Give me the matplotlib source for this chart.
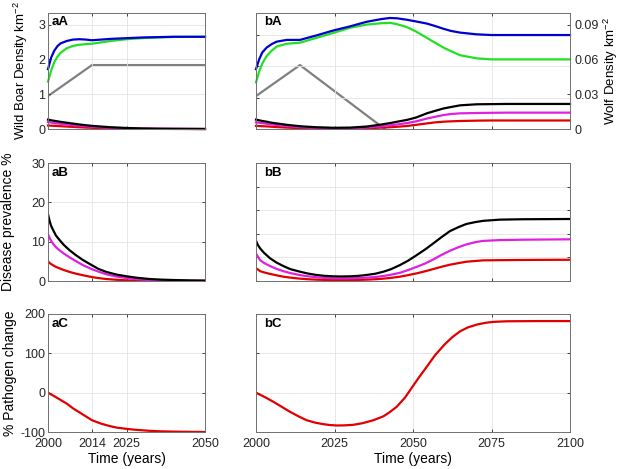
import numpy as np
import matplotlib
matplotlib.use('Agg')
import matplotlib.pyplot as pl

pl.rcParams['font.family'] = ['Liberation Sans', 'DejaVu Sans']
pl.rcParams['font.size'] = 10
pl.rcParams['mathtext.default'] = 'regular'
pl.rcParams['axes.unicode_minus'] = False

# ---- data ----
# row A, left: wild boar density (km^-2) and wolf density
yr_aA = [2000, 2001, 2002, 2003, 2004, 2006, 2008, 2010, 2012, 2014, 2017, 2020, 2025, 2030, 2035, 2040, 2050]
boar_total_aA = [1.72, 2.05, 2.25, 2.38, 2.46, 2.53, 2.57, 2.58, 2.57, 2.55, 2.57, 2.59, 2.61, 2.63, 2.64, 2.65, 2.65]
boar_sus_aA = [1.36, 1.68, 1.92, 2.08, 2.19, 2.32, 2.39, 2.42, 2.44, 2.45, 2.49, 2.53, 2.58, 2.61, 2.63, 2.645, 2.65]
boar_inf_aA = [0.27, 0.25, 0.235, 0.22, 0.205, 0.18, 0.155, 0.13, 0.11, 0.09, 0.07, 0.05, 0.03, 0.015, 0.008, 0.005, 0.0]
boar_mid_aA = [0.20, 0.185, 0.17, 0.16, 0.15, 0.13, 0.11, 0.095, 0.08, 0.065, 0.05, 0.035, 0.02, 0.01, 0.005, 0.003, 0.0]
boar_low_aA = [0.10, 0.095, 0.09, 0.085, 0.08, 0.07, 0.06, 0.05, 0.04, 0.035, 0.025, 0.018, 0.01, 0.005, 0.003, 0.001, 0.0]
wolf_yr_a = [2000, 2014, 2050]
wolf_a = [0.0284, 0.0551, 0.0551]

# row A, right
yr_bA = [2000, 2001, 2002, 2003.4, 2005, 2006.6, 2009.8, 2014, 2019.3, 2024.6, 2030, 2035.2, 2040,
         2042.7, 2045, 2048, 2051, 2054.4, 2057, 2059.7, 2062, 2065, 2070.3, 2075, 2080, 2090, 2100]
boar_total_bA = [1.72, 2.0, 2.2, 2.34, 2.44, 2.51, 2.56, 2.56, 2.69, 2.83, 2.95, 3.08, 3.16,
                 3.19, 3.18, 3.14, 3.09, 3.03, 2.96, 2.88, 2.82, 2.77, 2.72, 2.70, 2.70, 2.70, 2.70]
boar_sus_bA = [1.34, 1.65, 1.88, 2.10, 2.25, 2.37, 2.45, 2.48, 2.62, 2.76, 2.91, 3.0, 3.04,
               3.05, 3.01, 2.93, 2.80, 2.62, 2.48, 2.34, 2.24, 2.12, 2.03, 2.0, 2.0, 2.0, 2.0]
boar_inf_bA = [0.27, 0.25, 0.23, 0.21, 0.18, 0.16, 0.12, 0.08, 0.05, 0.035, 0.04, 0.07, 0.13,
               0.17, 0.21, 0.26, 0.33, 0.45, 0.52, 0.59, 0.63, 0.68, 0.71, 0.715, 0.72, 0.72, 0.72]
boar_mid_bA = [0.19, 0.18, 0.17, 0.15, 0.13, 0.115, 0.085, 0.055, 0.035, 0.025, 0.025, 0.045, 0.08,
               0.105, 0.13, 0.17, 0.22, 0.30, 0.35, 0.40, 0.43, 0.45, 0.46, 0.465, 0.47, 0.47, 0.47]
boar_low_bA = [0.09, 0.085, 0.08, 0.075, 0.065, 0.055, 0.04, 0.025, 0.015, 0.012, 0.012, 0.02, 0.04,
               0.05, 0.065, 0.085, 0.12, 0.16, 0.19, 0.21, 0.22, 0.23, 0.24, 0.245, 0.245, 0.245, 0.245]
wolf_yr_b = [2000, 2014, 2041]
wolf_b = [0.0284, 0.0551, 0.0]

# row B: disease prevalence (%)
yr_aB = [2000, 2000.5, 2001, 2001.6, 2002.5, 2003.7, 2005, 2006.9, 2009, 2011.2, 2014, 2016,
         2018.6, 2022, 2025, 2028, 2032.4, 2036, 2040, 2045, 2050]
prev_hi_aB = [17.0, 15.3, 14.0, 13.0, 11.6, 10.4, 9.2, 7.8, 6.5, 5.3, 4.0, 3.1,
              2.3, 1.6, 1.2, 0.85, 0.5, 0.35, 0.25, 0.15, 0.1]
prev_mid_aB = [11.9, 11.0, 10.2, 9.5, 8.6, 7.8, 7.0, 6.0, 5.0, 4.0, 3.0, 2.4,
               1.7, 1.1, 0.77, 0.5, 0.26, 0.17, 0.1, 0.06, 0.05]
prev_low_aB = [5.0, 4.6, 4.3, 4.0, 3.6, 3.2, 2.8, 2.3, 1.85, 1.45, 1.0, 0.75,
               0.5, 0.3, 0.17, 0.1, 0.05, 0.03, 0.02, 0.01, 0.0]

yr_bB = [2000, 2000.5, 2001.3, 2002.5, 2004.5, 2006.5, 2008.7, 2011, 2014, 2016.5, 2019.3, 2022,
         2024.6, 2027, 2030, 2032.5, 2035.2, 2038, 2040.6, 2043, 2045.9, 2048.5, 2051.2, 2054,
         2056.5, 2059, 2061.8, 2064.5, 2067, 2070, 2072.4, 2077.7, 2085, 2100]
prev_hi_bB = [10.25, 9.3, 8.3, 7.2, 5.76, 4.7, 3.8, 3.0, 2.37, 1.9, 1.53, 1.3,
              1.19, 1.15, 1.19, 1.3, 1.53, 1.85, 2.37, 3.0, 4.07, 5.2, 6.6, 8.1,
              9.58, 11.1, 12.7, 13.7, 14.5, 15.0, 15.3, 15.6, 15.7, 15.76]
prev_mid_bB = [7.0, 6.3, 5.3, 4.6, 3.8, 3.1, 2.5, 2.0, 1.5, 1.2, 0.93, 0.77,
               0.68, 0.66, 0.68, 0.75, 0.85, 1.02, 1.27, 1.6, 2.1, 2.8, 3.6, 4.5,
               5.5, 6.6, 7.7, 8.6, 9.3, 9.9, 10.2, 10.4, 10.5, 10.6]
prev_low_bB = [3.2, 3.0, 2.5, 2.2, 1.8, 1.45, 1.1, 0.85, 0.6, 0.45, 0.34, 0.28,
               0.25, 0.24, 0.25, 0.28, 0.34, 0.45, 0.6, 0.8, 1.1, 1.5, 1.95, 2.5,
               3.05, 3.6, 4.15, 4.55, 4.9, 5.1, 5.25, 5.3, 5.35, 5.4]

# row C: % pathogen change
yr_aC = [2000, 2002, 2003.7, 2006, 2008, 2011, 2014, 2017, 2019.7, 2022, 2025, 2028, 2032.4,
         2036, 2040, 2045, 2050]
path_aC = [0, -9, -17, -28, -40, -55, -70, -79, -85, -89, -92, -94.5, -97, -98.3, -99, -99.6, -100]
yr_bC = [2000, 2003, 2005.5, 2008, 2010.8, 2013.5, 2016.1, 2019, 2021.4, 2023.5, 2025.7, 2028,
         2031, 2034, 2037.4, 2040.6, 2042.5, 2044.8, 2047.5, 2050, 2052, 2054.4, 2057, 2060,
         2062.5, 2065, 2067.5, 2070.3, 2073, 2075.6, 2080, 2090, 2100]
path_bC = [0, -12, -23, -35, -48.5, -60, -70, -76.5, -80, -82.3, -83.4, -83.2,
           -81.7, -77.5, -70, -60, -50, -36, -12, 17, 40, 66, 95, 122,
           141, 156, 166, 173, 177.5, 180, 181.5, 182, 182]

xt_left = [2000, 2014, 2025, 2050]
xt_right = [2000, 2025, 2050, 2075, 2100]

C_BLUE = '#0000d0'
C_GREEN = '#22e022'
C_GRAY = '#808080'
C_BLACK = '#000000'
C_MAG = '#e020e0'
C_RED = '#e00000'
LW = 1.6
AXC = '#262626'
TICK_FS = 9

fig = pl.figure(figsize=(6.21, 4.69), dpi=100)
W, H = 621, 469
cols = [(48, 205), (256, 570)]
rows = [(13, 129), (163, 281), (314, 432)]
axs = {}
for r, (yt, yb) in enumerate(rows):
    for c, (xl, xr) in enumerate(cols):
        ax = fig.add_axes([xl / W, 1 - yb / H, (xr - xl) / W, (yb - yt) / H])
        axs[(r, c)] = ax


def style(ax, xlim, xticks, ylim, yticks, xlabels, ylabels):
    ax.set_xlim(xlim)
    ax.set_ylim(ylim)
    ax.set_xticks(xticks)
    ax.set_yticks(yticks)
    if not xlabels:
        ax.set_xticklabels([])
    if not ylabels:
        ax.set_yticklabels([])
    ax.grid(True, color='#e3e3e3', lw=0.6)
    ax.set_axisbelow(True)
    for s in ax.spines.values():
        s.set_color('#707070')
        s.set_linewidth(0.7)
    ax.tick_params(direction='in', length=2.5, width=0.6, color=AXC, labelcolor=AXC,
                   top=True, right=True, pad=2, labelsize=TICK_FS)
    ax.tick_params(axis='x', pad=4)


def label(ax, txt):
    ax.text(0.025, 0.97, txt, transform=ax.transAxes, fontweight='bold', fontsize=9.5,
            va='top', ha='left')


# --- row A ---
ax = axs[(0, 0)]
for yv, col in [(boar_low_aA, C_RED), (boar_mid_aA, C_MAG), (boar_inf_aA, C_BLACK),
                (boar_sus_aA, C_GREEN), (boar_total_aA, C_BLUE)]:
    ax.plot(yr_aA, yv, color=col, lw=LW, clip_on=False)
style(ax, (2000, 2050), xt_left, (0, 10 / 3), [0, 1, 2, 3], False, True)
ax.set_ylabel('Wild Boar Density km$^{-2}$', labelpad=6, fontsize=9.5)
tw = ax.twinx()
tw.plot(wolf_yr_a, wolf_a, color=C_GRAY, lw=LW)
tw.set_ylim(0, 0.1)
tw.set_yticks([])
tw.set_zorder(ax.get_zorder() - 1)
ax.patch.set_visible(False)
for s in tw.spines.values():
    s.set_visible(False)
label(ax, 'aA')

ax = axs[(0, 1)]
for yv, col in [(boar_low_bA, C_RED), (boar_mid_bA, C_MAG), (boar_inf_bA, C_BLACK),
                (boar_sus_bA, C_GREEN), (boar_total_bA, C_BLUE)]:
    ax.plot(yr_bA, yv, color=col, lw=LW, clip_on=False)
style(ax, (2000, 2100), xt_right, (0, 10 / 3), [0, 0.9, 1.8, 2.7], False, False)
ax.tick_params(right=False)
tw = ax.twinx()
tw.plot(wolf_yr_b, wolf_b, color=C_GRAY, lw=LW)
tw.set_ylim(0, 0.1)
tw.set_yticks([0, 0.03, 0.06, 0.09])
tw.set_yticklabels(['0', '0.03', '0.06', '0.09'])
tw.tick_params(direction='in', length=2.5, width=0.6, color=AXC, labelcolor=AXC, pad=3,
               labelsize=TICK_FS)
tw.set_ylabel('Wolf Density km$^{-2}$', rotation=90, labelpad=2, fontsize=9.5)
for s in tw.spines.values():
    s.set_visible(False)
tw.set_zorder(ax.get_zorder() - 1)
ax.patch.set_visible(False)
label(ax, 'bA')

# --- row B ---
ax = axs[(1, 0)]
for yv, col in [(prev_low_aB, C_RED), (prev_mid_aB, C_MAG), (prev_hi_aB, C_BLACK)]:
    ax.plot(yr_aB, yv, color=col, lw=LW)
style(ax, (2000, 2050), xt_left, (0, 30), [0, 10, 20, 30], False, True)
ax.set_ylabel('Disease prevalence %', labelpad=12)
label(ax, 'aB')

ax = axs[(1, 1)]
for yv, col in [(prev_low_bB, C_RED), (prev_mid_bB, C_MAG), (prev_hi_bB, C_BLACK)]:
    ax.plot(yr_bB, yv, color=col, lw=LW)
style(ax, (2000, 2100), xt_right, (0, 30), [0, 6, 12, 18, 24, 30], False, False)
label(ax, 'bB')

# --- row C ---
ax = axs[(2, 0)]
ax.plot(yr_aC, path_aC, color=C_RED, lw=LW)
style(ax, (2000, 2050), xt_left, (-100, 200), [-100, 0, 100, 200], True, True)
ax.set_ylabel('% Pathogen change', labelpad=2)
ax.set_xlabel('Time (years)', labelpad=2)
label(ax, 'aC')

ax = axs[(2, 1)]
ax.plot(yr_bC, path_bC, color=C_RED, lw=LW)
style(ax, (2000, 2100), xt_right, (-100, 200), [-100, 0, 100, 200], True, False)
ax.set_xlabel('Time (years)', labelpad=2)
label(ax, 'bC')

fig.savefig('out.png', dpi=100)
